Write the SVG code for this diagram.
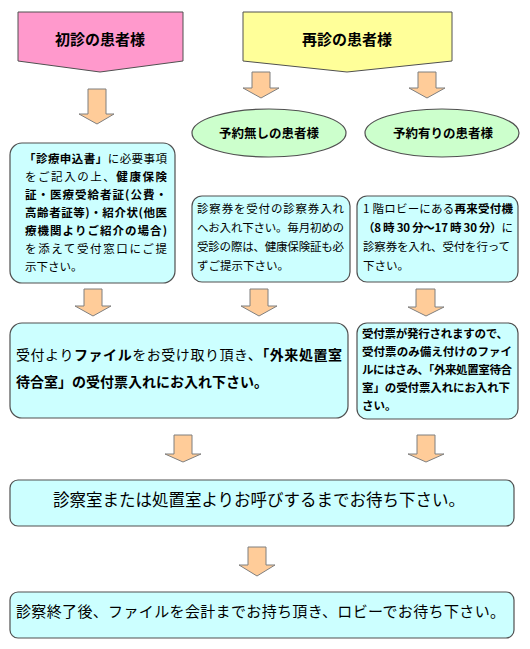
<svg xmlns="http://www.w3.org/2000/svg" width="530" height="649" viewBox="0 0 530 649">
<style>
text{font-family:"Noto Sans CJK JP","Noto Sans CJK SC",sans-serif;fill:#000}
.box{fill:#CCFFFF;stroke:#505050;stroke-width:1.2}
.arr{fill:#FFCC99;stroke:#7F7F7F;stroke-width:1}
.ell{fill:#CCFFCC;stroke:#505050;stroke-width:1.2}
.hdr{font-size:15px;font-weight:bold;text-anchor:middle}
.eltx{font-size:12.5px;font-weight:bold;text-anchor:middle}
.sm{font-size:11.5px}
.b{font-weight:bold}
</style>
<rect width="530" height="649" fill="#fff"/>
<g id="connectors">
<path class="arr" d="M88,89H106V114H114L97,124L79,114H88Z"/>
<path class="arr" d="M252,72H270V88H279L261,98L243,88H252Z"/>
<path class="arr" d="M418,72H436V88H445L427,98L409,88H418Z"/>
<path class="arr" d="M84,289H102V306H111L93,316L75,306H84Z"/>
<path class="arr" d="M250,289H268V306H277L259,316L241,306H250Z"/>
<path class="arr" d="M416,289H435V307H444L426,316L408,307H416Z"/>
<path class="arr" d="M174,435H192V454H201L183,462L165,454H174Z"/>
<path class="arr" d="M417,435H435V454H444L426,462L408,454H417Z"/>
<path class="arr" d="M248,547H266V565H275L257,576L239,565H248Z"/>
</g>
<g id="first">
<path d="M18,12H183V61L100,72L18,61Z" fill="#FF99CC" stroke="#505050" stroke-width="1"/>
<text class="hdr" x="100" y="45">初診の患者様</text>
</g>
<g id="revisit">
<path d="M243,12H452V61L347,72L243,61Z" fill="#FFFF99" stroke="#505050" stroke-width="1"/>
<text class="hdr" x="347" y="45">再診の患者様</text>
</g>
<g id="noappt">
<ellipse class="ell" cx="269" cy="133" rx="77" ry="24"/>
<text class="eltx" x="269" y="138">予約無しの患者様</text>
</g>
<g id="appt">
<ellipse class="ell" cx="442" cy="133" rx="77" ry="24"/>
<text class="eltx" x="443" y="138">予約有りの患者様</text>
</g>
<g id="firstbox">
<rect class="box" x="10" y="143" width="165" height="140" rx="12"/>
<text class="sm" x="24" y="163" textLength="143" lengthAdjust="spacing"><tspan class="b">「診療申込書」</tspan>に必要事項</text>
<text class="sm" x="25" y="181" textLength="142" lengthAdjust="spacing">をご記入の上、<tspan class="b">健康保険</tspan></text>
<text class="sm b" x="25" y="199" textLength="142" lengthAdjust="spacing">証・医療受給者証(公費・</text>
<text class="sm b" x="25" y="217" textLength="142" lengthAdjust="spacing">高齢者証等)・紹介状(他医</text>
<text class="sm b" x="25" y="235" textLength="142" lengthAdjust="spacing">療機関よりご紹介の場合)</text>
<text class="sm" x="25" y="253" textLength="142" lengthAdjust="spacing">を添えて受付窓口にご提</text>
<text class="sm" x="25" y="271">示下さい。</text>
</g>
<g id="noapptbox">
<rect class="box" x="192" y="196" width="158" height="86" rx="10"/>
<text class="sm" x="197" y="213" textLength="147" lengthAdjust="spacing">診察券を受付の診察券入れ</text>
<text class="sm" x="197" y="232" textLength="147" lengthAdjust="spacing">へお入れ下さい。毎月初めの</text>
<text class="sm" x="197" y="251" textLength="147" lengthAdjust="spacing">受診の際は、健康保険証も必</text>
<text class="sm" x="197" y="270">ずご提示下さい。</text>
</g>
<g id="apptbox">
<rect class="box" x="357" y="196" width="161" height="86" rx="10"/>
<text class="sm" x="363" y="213" textLength="150" lengthAdjust="spacing">1 階ロビーにある<tspan class="b">再来受付機</tspan></text>
<text class="sm" x="363" y="232" textLength="150" lengthAdjust="spacing"><tspan class="b">（8 時 30 分～17 時 30 分）</tspan>に</text>
<text class="sm" x="363" y="251" textLength="147" lengthAdjust="spacing">診察券を入れ、受付を行って</text>
<text class="sm" x="363" y="270">下さい。</text>
</g>
<g id="filebox">
<rect class="box" x="10" y="323" width="338" height="95" rx="12"/>
<text x="16" y="360" font-size="14" textLength="326" lengthAdjust="spacing">受付より<tspan class="b">ファイル</tspan>をお受け取り頂き、<tspan class="b">「外来処置室</tspan></text>
<text class="b" x="16" y="387" font-size="14">待合室」の受付票入れにお入れ下さい。</text>
</g>
<g id="ticketbox">
<rect class="box" x="357" y="323" width="161" height="96" rx="10"/>
<text class="sm b" x="362" y="338" textLength="146" lengthAdjust="spacing">受付票が発行されますので、</text>
<text class="sm b" x="362" y="356" textLength="150" lengthAdjust="spacing">受付票のみ備え付けのファイ</text>
<text class="sm b" x="362" y="374" textLength="150" lengthAdjust="spacing">ルにはさみ、「外来処置室待合</text>
<text class="sm b" x="362" y="392" textLength="148" lengthAdjust="spacing">室」の受付票入れにお入れ下</text>
<text class="sm b" x="362" y="410">さい。</text>
</g>
<g id="waitbox">
<rect class="box" x="10" y="480" width="504" height="46" rx="8"/>
<text x="259" y="506" font-size="16.5" text-anchor="middle">診察室または処置室よりお呼びするまでお待ち下さい。</text>
</g>
<g id="paybox">
<rect class="box" x="10" y="592" width="504" height="46" rx="8"/>
<text x="16" y="617" font-size="15" textLength="489" lengthAdjust="spacing">診察終了後、ファイルを会計までお持ち頂き、ロビーでお待ち下さい。</text>
</g>
</svg>
